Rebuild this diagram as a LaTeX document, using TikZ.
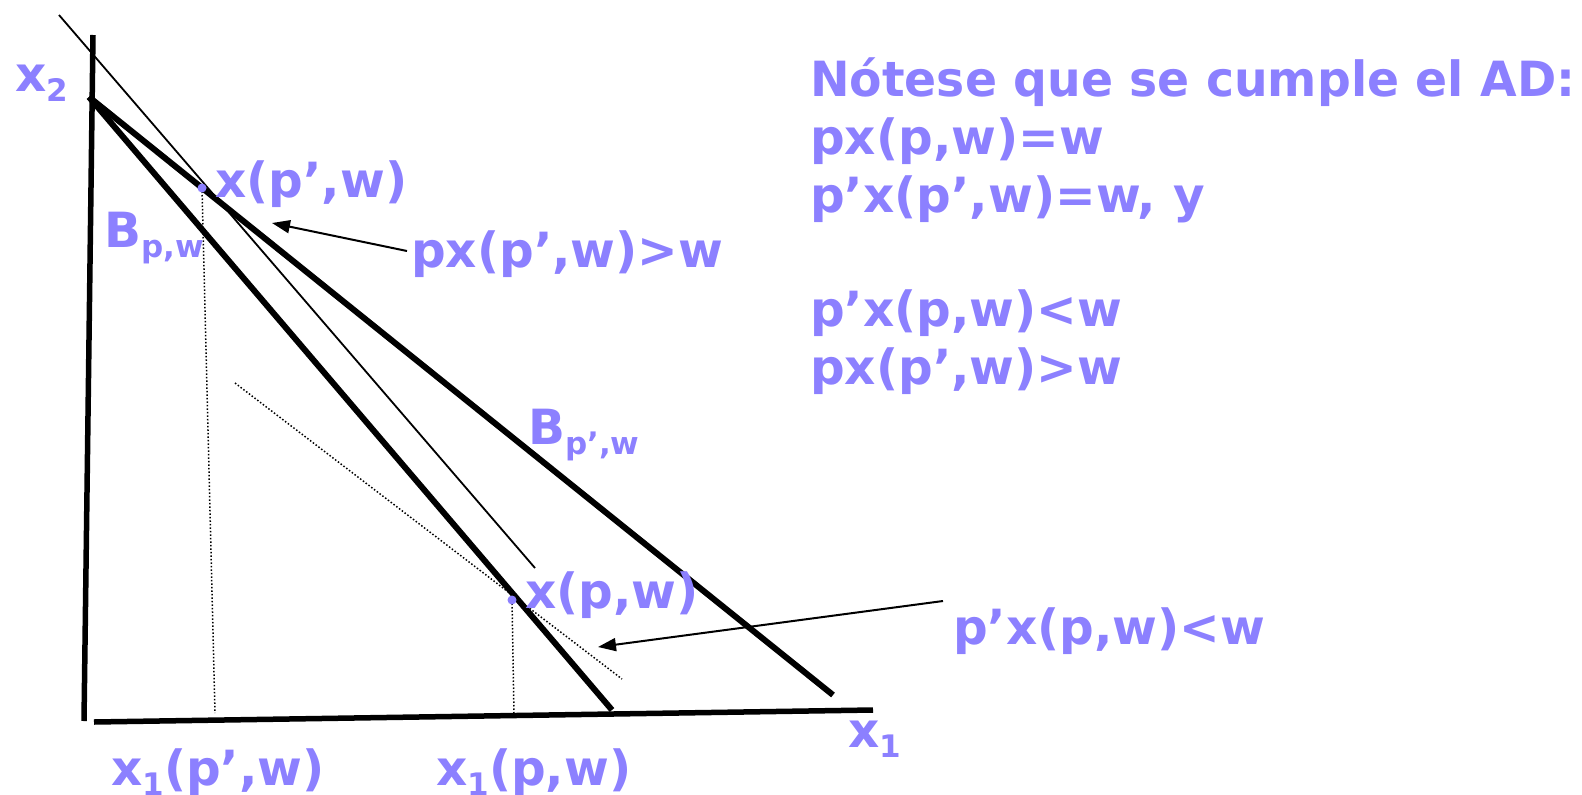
\documentclass[tikz,border=0pt]{standalone}
\usepackage{fontspec}
\setmainfont{DejaVu Sans}
\usetikzlibrary{arrows.meta}
\definecolor{lab}{RGB}{140,128,255}
\newcommand{\lsub}[1]{\raisebox{-10pt}{\fontsize{31}{31}\selectfont #1}}
\begin{document}
\begin{tikzpicture}[x=1pt,y=-1pt,
  lbl/.style={anchor=base west,inner sep=0pt,text=lab,font=\fontsize{48.5}{58}\selectfont\bfseries},
  axis/.style={line width=5.5pt},
  budget/.style={line width=6pt},
  thinline/.style={line width=1.8pt},
  dotline/.style={line width=1.5pt,dash pattern=on 1.5pt off 2pt},
  arr/.style={line width=2pt,-{Triangle[length=18pt,width=13pt]}},
  pt/.style={circle,fill=lab,inner sep=0pt,minimum size=9pt}]
\useasboundingbox (0,0) rectangle (1582,795);
% axes
\coordinate (ytop) at (93,35);
\coordinate (orig) at (84,721);
\coordinate (xl) at (94,722);
\coordinate (xr) at (873,710);
\draw[axis] (ytop) -- (orig);
\draw[axis] (xl) -- (xr);
% budget lines
\coordinate (A) at (89,97);
\coordinate (Bend) at (612,710);
\coordinate (Bpend) at (833,695);
\draw[budget] (A) -- (Bend);
\draw[budget] (A) -- (Bpend);
% thin line
\coordinate (t1) at (59,15);
\coordinate (t2) at (535,568);
\draw[thinline] (t1) -- (t2);
% dotted line
\coordinate (d1) at (235,383);
\coordinate (d2) at (622,679);
\draw[dotline] (d1) -- (d2);
% points
\coordinate (f1) at (215,713);
\coordinate (f2) at (514,714);
\coordinate (c1) at (202,188);
\coordinate (c2) at (512,600);
\draw[dotline] (c1) -- (f1);
\draw[dotline] (c2) -- (f2);
\node[pt] (xpp) at (c1) {};
\node[pt] (xp) at (c2) {};
% labels
\node[lbl] (lx2) at (15,91) {x\lsub{2}};
\node[lbl] (lxpp) at (215,197) {x(p’,w)};
\node[lbl] (lBpw) at (104,247) {B\lsub{p,w}};
\node[lbl] (lgt) at (411,267) {px(p’,w)>w};
\node[lbl] (lBppw) at (528,444) {B\lsub{p’,w}};
\node[lbl] (lxp) at (525,608) {x(p,w)};
\node[lbl] (llt) at (953,644) {p’x(p,w)<w};
\node[lbl] (lx1) at (848,747) {x\lsub{1}};
\node[lbl] (lx1pp) at (111,785) {x\lsub{1}(p’,w)};
\node[lbl] (lx1p) at (436,785) {x\lsub{1}(p,w)};
% arrows
\coordinate (a1s) at (407,251);
\coordinate (a1e) at (272,223);
\draw[arr] (a1s) -- (a1e);
\coordinate (a2s) at (943,601);
\coordinate (a2e) at (598,647);
\draw[arr] (a2s) -- (a2e);
% right text
\node[lbl] (r1) at (810,96) {\scalebox{0.975}[1]{Nótese que se cumple el AD:}};
\node[lbl] (r2) at (810,154) {px(p,w)=w};
\node[lbl] (r3) at (810,212) {p’x(p’,w)=w, y};
\node[lbl] (r4) at (810,326) {p’x(p,w)<w};
\node[lbl] (r5) at (810,384) {px(p’,w)>w};
\end{tikzpicture}
\end{document}
